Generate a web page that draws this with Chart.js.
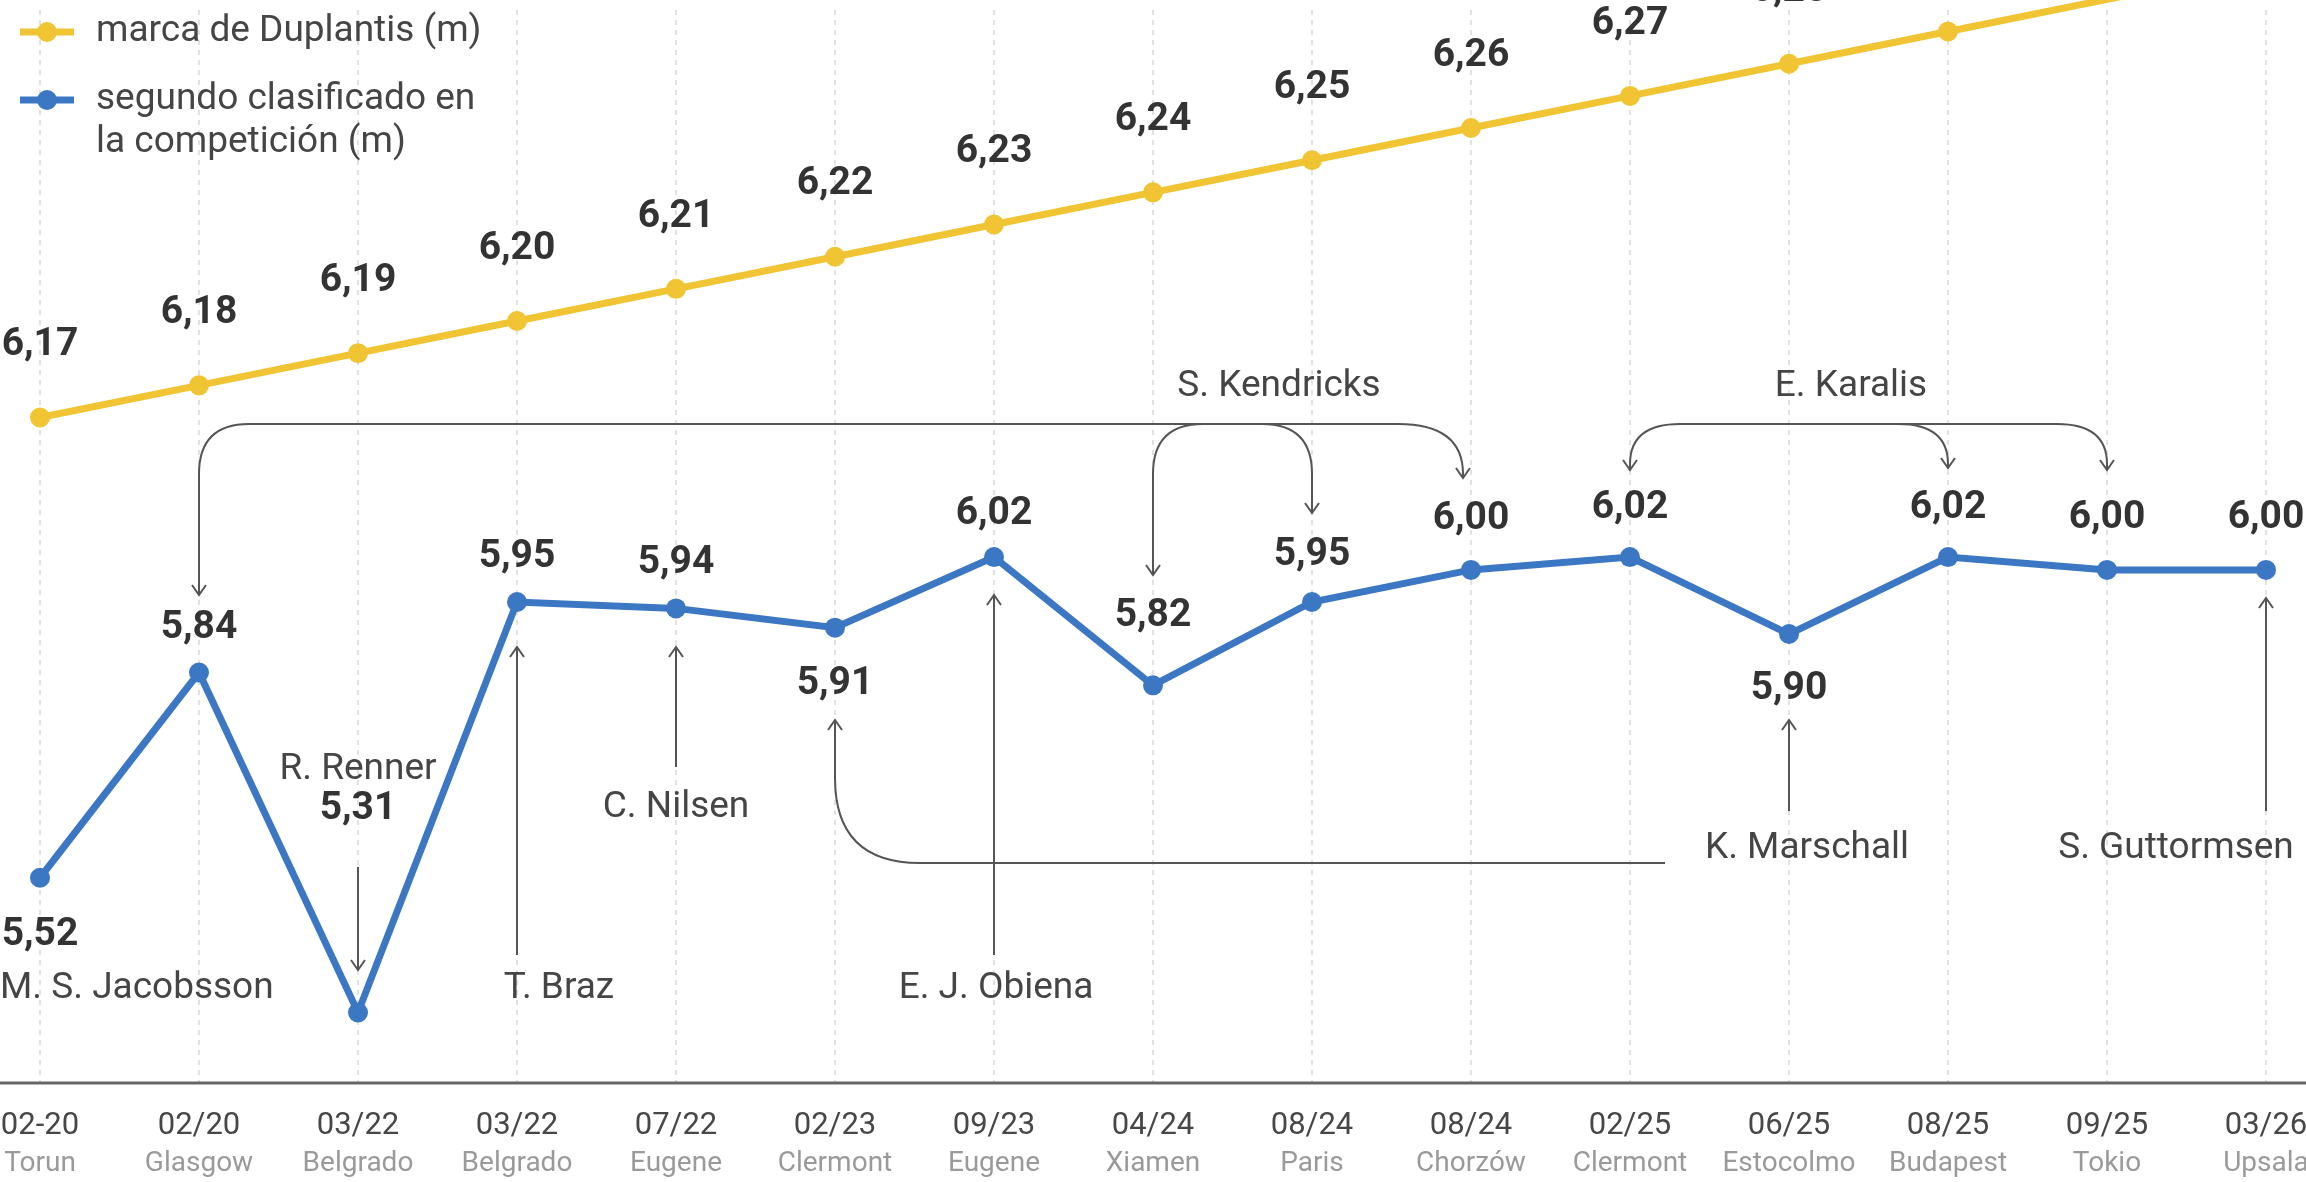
<!DOCTYPE html>
<html>
<head>
<meta charset="utf-8">
<script src="https://cdn.jsdelivr.net/npm/chart.js@4.4.1/dist/chart.umd.min.js"></script>
<style>
  html, body { margin: 0; padding: 0; background: #fff; overflow: hidden; }
</style>
</head>
<body>
<canvas id="grafico" width="2306" height="1182"></canvas>
<script>
// --- datos ---
const fechas = ['02-20', '02/20', '03/22', '03/22', '07/22', '02/23', '09/23', '04/24', '08/24', '08/24', '02/25', '06/25', '08/25', '09/25', '03/26'];
const ciudades = ['Torun', 'Glasgow', 'Belgrado', 'Belgrado', 'Eugene', 'Clermont', 'Eugene', 'Xiamen', 'Paris', 'Chorzów', 'Clermont', 'Estocolmo', 'Budapest', 'Tokio', 'Upsala'];
const marcaDuplantis = [6.17, 6.18, 6.19, 6.20, 6.21, 6.22, 6.23, 6.24, 6.25, 6.26, 6.27, 6.28, 6.29, 6.30, 6.31];
const segundoClasificado = [5.52, 5.84, 5.31, 5.95, 5.94, 5.91, 6.02, 5.82, 5.95, 6.00, 6.02, 5.90, 6.02, 6.00, 6.00];

// desplazamiento vertical de la etiqueta de cada punto azul (px, + = debajo)
const offsetAzul = [57, -44, -203, -45, -45, 57, -43, -69, -47, -51, -49, 55, -49, -52, -52];

const AMARILLO = '#f0c433';
const AZUL = '#3b77c3';
const FUENTE = 'Roboto, "Liberation Sans", sans-serif';
const GRIS_TXT = '#454545';
const GRIS_LINEA = '#555';

const fmt = v => v.toFixed(2).replace('.', ',');

function flecha(ctx, x, y, dir) {
  // dir: -1 hacia arriba, 1 hacia abajo
  ctx.beginPath();
  ctx.moveTo(x - 7, y - dir * 10);
  ctx.lineTo(x, y);
  ctx.lineTo(x + 7, y - dir * 10);
  ctx.stroke();
}

function texto(ctx, t, x, y, font, color, align) {
  ctx.font = font;
  ctx.fillStyle = color;
  ctx.textAlign = align || 'center';
  ctx.textBaseline = 'middle';
  ctx.fillText(t, x, y);
}

const decoracion = {
  id: 'decoracion',
  beforeDraw(chart) {
    const ctx = chart.ctx;
    ctx.save();
    ctx.fillStyle = '#fff';
    ctx.fillRect(0, 0, chart.width, chart.height);
    ctx.restore();
  },
  afterDraw(chart) {
    const ctx = chart.ctx;
    const xs = chart.scales.x;
    const X = i => xs.getPixelForValue(i);
    const area = chart.chartArea;
    const ptsA = chart.getDatasetMeta(0).data;
    const ptsB = chart.getDatasetMeta(1).data;
    ctx.save();

    // eje inferior
    ctx.strokeStyle = '#666';
    ctx.lineWidth = 3;
    ctx.beginPath();
    ctx.moveTo(0, area.bottom);
    ctx.lineTo(chart.width, area.bottom);
    ctx.stroke();

    // etiquetas del eje x
    fechas.forEach((f, i) => {
      texto(ctx, f, X(i), area.bottom + 43, '31px ' + FUENTE, '#474747');
      texto(ctx, ciudades[i], X(i), area.bottom + 81, '28px ' + FUENTE, '#9a9a9a');
    });

    // valores
    const vf = 'bold 39px ' + FUENTE;
    ptsA.forEach((p, i) => {
      texto(ctx, fmt(marcaDuplantis[i]), p.x, p.y - 72, vf, '#333');
    });
    ptsB.forEach((p, i) => {
      texto(ctx, fmt(segundoClasificado[i]), p.x, p.y + offsetAzul[i], vf, '#333');
    });

    // nombres
    const nf = '37px ' + FUENTE;
    texto(ctx, 'M. S. Jacobsson', 0, 989, nf, GRIS_TXT, 'left');
    texto(ctx, 'R. Renner', X(2), 770, nf, GRIS_TXT);
    texto(ctx, 'T. Braz', X(3) + 42, 989, nf, GRIS_TXT);
    texto(ctx, 'C. Nilsen', X(4), 808, nf, GRIS_TXT);
    texto(ctx, 'E. J. Obiena', X(6) + 2, 989, nf, GRIS_TXT);
    texto(ctx, 'K. Marschall', X(11) + 18, 849, nf, GRIS_TXT);
    texto(ctx, 'S. Guttormsen', X(14) - 90, 849, nf, GRIS_TXT);
    texto(ctx, 'S. Kendricks', X(8) - 33, 387, nf, GRIS_TXT);
    texto(ctx, 'E. Karalis', X(11) + 62, 387, nf, GRIS_TXT);

    // flechas verticales
    ctx.strokeStyle = GRIS_LINEA;
    ctx.lineWidth = 2;
    const vertical = (x, y0, y1, dir) => {
      ctx.beginPath(); ctx.moveTo(x, y0); ctx.lineTo(x, y1); ctx.stroke();
      flecha(ctx, x, y1, dir);
    };
    vertical(X(2), 867, 970, 1);
    vertical(X(3), 955, 647, -1);
    vertical(X(4), 767, 647, -1);
    vertical(X(6), 955, 595, -1);
    vertical(X(11), 811, 720, -1);
    vertical(X(14), 811, 598, -1);

    // conector S. Kendricks
    const yh = 424, r = 50;
    const x1 = X(1), x7 = X(7), x8 = X(8), x9 = X(9) - 8;
    ctx.beginPath();
    ctx.moveTo(x1, 595);
    ctx.lineTo(x1, yh + r);
    ctx.quadraticCurveTo(x1, yh, x1 + r, yh);
    ctx.lineTo(x9 - 65, yh);
    ctx.quadraticCurveTo(x9, yh, x9, yh + 50);
    ctx.lineTo(x9, 478);
    ctx.moveTo(x7, 575);
    ctx.lineTo(x7, yh + r);
    ctx.quadraticCurveTo(x7, yh, x7 + r, yh);
    ctx.moveTo(x8 - r, yh);
    ctx.quadraticCurveTo(x8, yh, x8, yh + r);
    ctx.lineTo(x8, 513);
    ctx.stroke();
    flecha(ctx, x1, 595, 1);
    flecha(ctx, x7, 575, 1);
    flecha(ctx, x8, 513, 1);
    flecha(ctx, x9, 478, 1);

    // conector E. Karalis
    const x10 = X(10), x12 = X(12), x13 = X(13);
    ctx.beginPath();
    ctx.moveTo(x10, 470);
    ctx.lineTo(x10, yh + 40);
    ctx.quadraticCurveTo(x10, yh, x10 + r, yh);
    ctx.lineTo(x13 - r, yh);
    ctx.quadraticCurveTo(x13, yh, x13, yh + 40);
    ctx.lineTo(x13, 470);
    ctx.moveTo(x12 - r, yh);
    ctx.quadraticCurveTo(x12, yh, x12, yh + 40);
    ctx.lineTo(x12, 468);
    ctx.stroke();
    flecha(ctx, x10, 470, 1);
    flecha(ctx, x12, 468, 1);
    flecha(ctx, x13, 470, 1);

    // conector K. Marschall -> 5,91
    const x5 = X(5), ym = 863, rm = 85;
    ctx.beginPath();
    ctx.moveTo(x5, 720);
    ctx.lineTo(x5, ym - rm);
    ctx.quadraticCurveTo(x5, ym, x5 + rm, ym);
    ctx.lineTo(1665, ym);
    ctx.stroke();
    flecha(ctx, x5, 720, -1);

    // leyenda
    const marcador = (y, color) => {
      ctx.strokeStyle = color;
      ctx.lineWidth = 7;
      ctx.beginPath(); ctx.moveTo(20, y); ctx.lineTo(74, y); ctx.stroke();
      ctx.fillStyle = color;
      ctx.beginPath(); ctx.arc(47, y, 10, 0, Math.PI * 2); ctx.fill();
    };
    marcador(32, AMARILLO);
    marcador(100, AZUL);
    texto(ctx, 'marca de Duplantis (m)', 96, 32, nf, GRIS_TXT, 'left');
    texto(ctx, 'segundo clasificado en', 96, 100, nf, GRIS_TXT, 'left');
    texto(ctx, 'la competición (m)', 96, 143, nf, GRIS_TXT, 'left');

    ctx.restore();
  }
};

const ctx = document.getElementById('grafico').getContext('2d');
new Chart(ctx, {
  type: 'line',
  data: {
    labels: fechas,
    datasets: [
      { label: 'marca de Duplantis (m)', data: marcaDuplantis, yAxisID: 'y2',
        borderColor: AMARILLO, backgroundColor: AMARILLO, borderWidth: 7,
        pointRadius: 10, pointHoverRadius: 10, pointBorderWidth: 0, tension: 0, clip: false },
      { label: 'segundo clasificado en la competición (m)', data: segundoClasificado, yAxisID: 'y',
        borderColor: AZUL, backgroundColor: AZUL, borderWidth: 7,
        pointRadius: 10, pointHoverRadius: 10, pointBorderWidth: 0, tension: 0, clip: false }
    ]
  },
  options: {
    responsive: false,
    animation: false,
    devicePixelRatio: 1,
    layout: { padding: { left: 40, right: 40, top: 0, bottom: 99 } },
    plugins: { legend: { display: false }, tooltip: { enabled: false } },
    scales: {
      x: {
        offset: false,
        ticks: { display: false },
        grid: { color: '#e2e2e2', lineWidth: 2, drawTicks: false },
        border: { display: false, dash: [5, 5] },
        afterFit(s) { s.height = 0; }
      },
      y: { display: false, min: 5.20, max: 6.873 },
      y2: { display: false, min: 5.9631, max: 6.2967 }
    }
  },
  plugins: [decoracion]
});
</script>
</body>
</html>
